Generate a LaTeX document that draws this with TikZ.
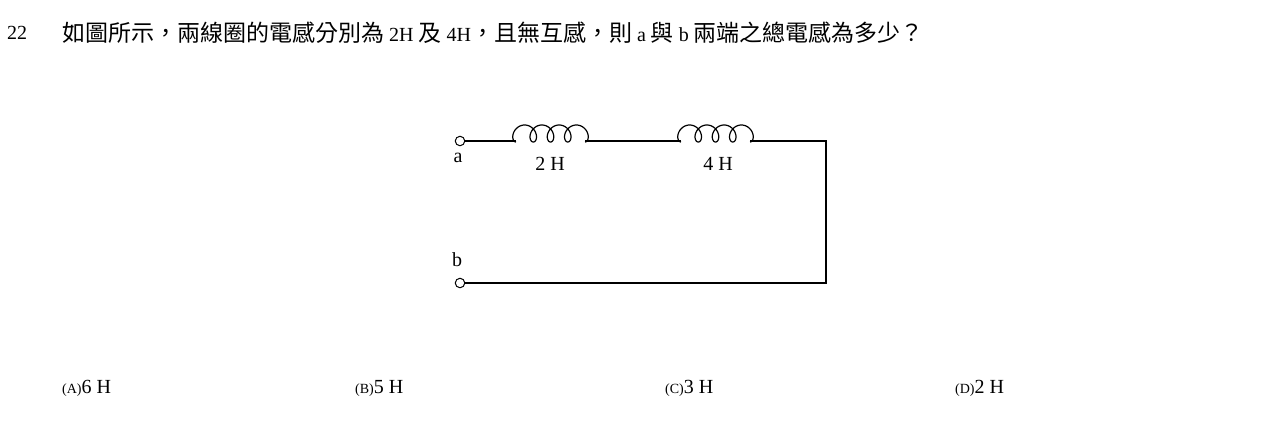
\documentclass[tikz,border=0pt]{standalone}
\usepackage{fontspec}
\setmainfont{Liberation Serif}
\newfontfamily\cjk{Noto Sans CJK TC}
\newcommand{\cj}[1]{{\cjk\fontsize{23}{26}\selectfont #1}}
\begin{document}
\begin{tikzpicture}[x=1pt,y=-1pt,
  txt/.style={inner sep=0pt,font=\fontsize{20}{24}\selectfont},
  lbl/.style={inner sep=0pt,anchor=west,font=\fontsize{20}{24}\selectfont},
  term/.style={circle,draw,inner sep=0pt,minimum size=9.5pt,line width=1pt},
  wire/.style={line width=1.2pt},
  coil/.style={line width=1.2pt}]
\useasboundingbox (0,0) rectangle (1274,445);
\node[lbl] (num) at (7,33) {22};
\node[lbl] (q) at (62,33) {\cj{如圖所示，兩線圈的電感分別為} 2H \cj{及} 4H\cj{，且無互感，則} a \cj{與} b \cj{兩端之總電感為多少？}};
\node[term] (a) at (460,141) {};
\node[term] (b) at (460,283) {};
\coordinate (c1s) at (516,141);
\coordinate (c1e) at (585,141);
\coordinate (c2s) at (681,141);
\coordinate (c2e) at (750,141);
\coordinate (tr) at (826,141);
\coordinate (br) at (826,283);
\draw[wire] (a) -- (c1s);
\draw[wire] (c1e) -- (c2s);
\draw[wire] (c2e) -- (tr) -- (br) -- (b);
\draw[coil] plot[domain=0:25.1327,samples=300,smooth] ({516+2.746*\x-7*sin(\x r)},{142-8.5*(1-cos(\x r))});
\draw[coil] plot[domain=0:25.1327,samples=300,smooth] ({681+2.746*\x-7*sin(\x r)},{142-8.5*(1-cos(\x r))});
\node[txt] (la) at (458,158) {a};
\node[txt] (l1) at (550,164) {2 H};
\node[txt] (l2) at (718,164) {4 H};
\node[txt] (lb) at (457,260) {b};
\node[lbl] (oa) at (62,388) {{\fontsize{14}{16}\selectfont(A)}6 H};
\node[lbl] (ob) at (355,388) {{\fontsize{14}{16}\selectfont(B)}5 H};
\node[lbl] (oc) at (665,388) {{\fontsize{14}{16}\selectfont(C)}3 H};
\node[lbl] (od) at (955,388) {{\fontsize{14}{16}\selectfont(D)}2 H};
\end{tikzpicture}
\end{document}
